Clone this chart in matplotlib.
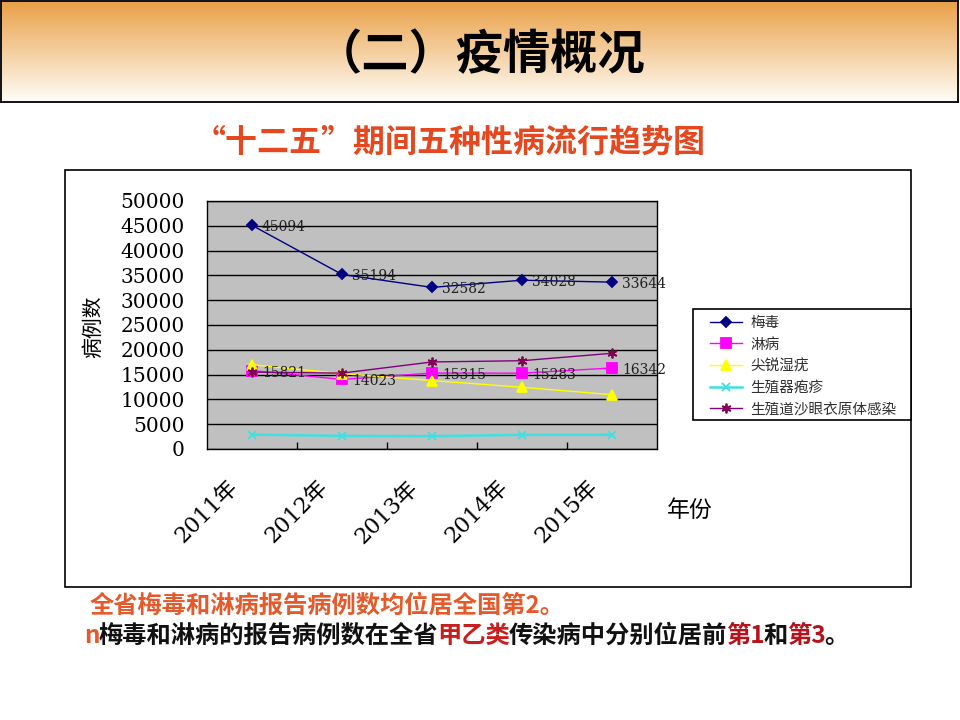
import matplotlib
matplotlib.use("Agg")
import matplotlib.pyplot as plt
import matplotlib.transforms as mtransforms
from matplotlib.patches import Rectangle
import numpy as np

plt.rcParams['font.family'] = ['Noto Sans CJK SC', 'DejaVu Sans']

# data
years = ["2011年", "2012年", "2013年", "2014年", "2015年"]
series_names = ["梅毒", "淋病", "尖锐湿疣", "生殖器疱疹", "生殖道沙眼衣原体感染"]
syphilis = [45094, 35194, 32582, 34028, 33644]
gonorrhea = [15821, 14023, 15315, 15283, 16342]
condyloma = [17000, 15200, 13800, 12450, 10950]
herpes = [2900, 2650, 2600, 2850, 2850]
chlamydia = [15500, 15300, 17550, 17800, 19300]
yticks = list(range(0, 50001, 5000))

W, H = 960, 720
fig = plt.figure(figsize=(9.6, 7.2), dpi=100)


def box(x0, y0, x1, y1):
    return [x0 / W, 1 - y1 / H, (x1 - x0) / W, (y1 - y0) / H]


# header band with orange gradient
hax = fig.add_axes(box(1, 1, 958, 102))
top = np.array([233, 160, 70]) / 255
bot = np.array([255, 253, 248]) / 255
t = np.linspace(0, 1, 200)[:, None]
grad = top * (1 - t) + bot * t
hax.imshow(grad[:, None, :], aspect='auto', extent=[0, 1, 0, 1])
hax.set_xticks([])
hax.set_yticks([])
for s in hax.spines.values():
    s.set_color('black')
    s.set_linewidth(1.3)
fig.text(480 / W, 1 - 55 / H, "（二）疫情概况", fontsize=34, fontweight='bold',
         ha='center', va='center', color='black')

fig.text(450 / W, 1 - 143 / H, "“十二五”期间五种性病流行趋势图", fontsize=23,
         fontweight='bold', ha='center', va='center', color='#E5471F')

# chart frame
fig.patches.append(Rectangle((65 / W, 1 - 587 / H), (911 - 65) / W, (587 - 170) / H,
                             transform=fig.transFigure, fill=False,
                             edgecolor='black', linewidth=1.2))

ax = fig.add_axes(box(207, 201, 657, 449))
ax.set_facecolor('#C0C0C0')
x = np.arange(len(years)) + 0.5

styles = [
    (syphilis, '#000080', 'D', 5.5, '#000080', 1.0),
    (gonorrhea, '#FF00FF', 's', 7, '#FF00FF', 1.0),
    (condyloma, '#FFFF00', '^', 7.5, '#FFFF00', 1.0),
    (herpes, '#40E0E0', 'x', 6, '#40E0E0', 1.8),
    (chlamydia, '#800080', (6, 2, 0), 7, '#800050', 1.0),
]
handles = []
for (vals, col, mk, ms, mcol, lw), name in zip(styles, series_names):
    h, = ax.plot(x, vals, color=col, marker=mk, markersize=ms, linewidth=lw,
                 markerfacecolor=mcol, markeredgecolor=mcol, markeredgewidth=1.3,
                 label=name, zorder=3)
    handles.append(h)

lbl_off = mtransforms.ScaledTranslation(10 / 100, -2 / 100, fig.dpi_scale_trans)
for vals in (syphilis, gonorrhea):
    for xi, v in zip(x, vals):
        ax.text(xi, v, str(v), fontsize=10, family='DejaVu Serif', ha='left',
                va='center', color='#202020', transform=ax.transData + lbl_off,
                zorder=4)

ax.set_xlim(0, len(years))
ax.set_ylim(0, 50000)
ax.set_yticks(yticks)
ax.set_yticklabels([str(v) for v in yticks], family='DejaVu Serif', fontsize=14.5)
ax.tick_params(axis='y', length=0, pad=16)
ax.set_xticks(range(1, len(years)))
ax.set_xticklabels([])
ax.tick_params(axis='x', direction='in', length=5, width=1, color='black')
ax.grid(axis='y', color='black', linewidth=1)
ax.set_axisbelow(True)
for s in ax.spines.values():
    s.set_color('black')
    s.set_linewidth(1)

lab_off = mtransforms.ScaledTranslation(-17 / 100, -35 / 100, fig.dpi_scale_trans)
for xi, yr in zip(x, years):
    ax.text(xi, 0, yr, rotation=45, rotation_mode='anchor', ha='right', va='center',
            fontsize=16, family=['DejaVu Serif', 'Noto Sans CJK SC'],
            transform=ax.get_xaxis_transform() + lab_off)

fig.text(690 / W, 1 - 510 / H, "年份", fontsize=16.5, ha='center', va='center')
fig.text(93 / W, 1 - 327 / H, "病例数", fontsize=15, rotation=90,
         ha='center', va='center')

# legend: frame drawn separately so it can run into the chart border
fig.patches.append(Rectangle((693 / W, 1 - 420 / H), (911 - 693) / W, (420 - 309) / H,
                             transform=fig.transFigure, facecolor='white',
                             edgecolor='black', linewidth=1.2, zorder=5))
leg = fig.legend(handles=handles, loc='upper left',
                 bbox_to_anchor=(710 / W, 1 - 316 / H), fontsize=10.5,
                 handlelength=2.2, labelspacing=0.52, borderpad=0.0,
                 handletextpad=0.55, frameon=False, borderaxespad=0)
leg.set_zorder(6)
for txt in leg.get_texts():
    txt.set_color('#303030')


def draw_runs(xpx, ypx, runs, **kw):
    # lay coloured pieces of one line next to each other
    r = fig.canvas.get_renderer()
    xf = xpx / W
    for s, c in runs:
        tt = fig.text(xf, 1 - ypx / H, s, color=c, ha='left', va='center', **kw)
        xf += (tt.get_window_extent(renderer=r).width - 1) / fig.bbox.width


draw_runs(90, 606, [("全省梅毒和淋病报告病例数均位居全国第2。", '#E55A2B')],
          fontsize=17.5, fontweight='bold')
draw_runs(84, 636, [("n", '#E55A2B'),
                    ("梅毒和淋病的报告病例数在全省", '#111111'),
                    ("甲乙类", '#C81E1E'),
                    ("传染病中分别位居前", '#111111'),
                    ("第1", '#B5121B'),
                    ("和", '#111111'),
                    ("第3", '#B5121B'),
                    ("。", '#111111')],
          fontsize=17.5, fontweight='bold')

fig.savefig("out.png", dpi=100)
